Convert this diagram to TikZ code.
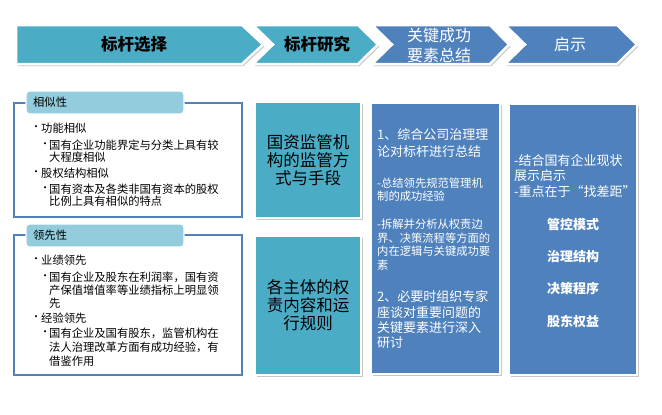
\documentclass[tikz,border=0pt]{standalone}
\usepackage{fontspec}
\setmainfont{Noto Sans CJK SC}
\usetikzlibrary{shadows}
\definecolor{tealA}{HTML}{4BACC6}
\definecolor{blueA}{HTML}{4F81BD}
\definecolor{tabA}{HTML}{93CDDD}
\newcommand{\fs}[1]{\fontsize{#1}{#1}\selectfont}
\tikzset{
  shd/.style={drop shadow={shadow xshift=1.5pt,shadow yshift=-2pt,fill=black,opacity=0.22}},
  arrowA/.style={fill=tealA,draw=white,line width=2.5pt,line join=miter,shd},
  arrowB/.style={fill=blueA,draw=white,line width=2.5pt,line join=miter,shd},
  boxT/.style={fill=tealA,draw=white,line width=2.5pt,shd},
  boxB/.style={fill=blueA,draw=white,line width=2.5pt,shd},
  panel/.style={draw=blueA,line width=1.8pt,fill=white},
  tab/.style={fill=tabA,draw=white,line width=1.2pt,rounded corners=3.5pt},
  ln/.style={anchor=west,inner sep=0pt,font=\fs{11.3}},
  bul/.style={anchor=west,inner sep=0pt,font=\fs{10}},
  wl/.style={anchor=west,inner sep=0pt,text=white},
  wc/.style={inner sep=0pt,text=white,font=\fs{13}\bfseries},
}
\begin{document}
\begin{tikzpicture}[x=1pt,y=-1pt]
\useasboundingbox (0,0) rectangle (662,415);
% ---- header chevrons ----
\path[arrowA] (16,25) -- (242,25) -- (263,44.5) -- (242,64) -- (16,64) -- cycle;
\path[arrowA] (253,25) -- (358,25) -- (378,44.5) -- (358,64) -- (253,64) -- (273,44.5) -- cycle;
\path[arrowB] (372,25) -- (490,25) -- (509,44.5) -- (490,64) -- (372,64) -- (392,44.5) -- cycle;
\path[arrowB] (505,25) -- (617,25) -- (637,44.5) -- (617,64) -- (505,64) -- (525,44.5) -- cycle;
\node[inner sep=0pt,font=\fs{16.5}\bfseries] (h1) at (134,44.5) {标杆选择};
\node[inner sep=0pt,font=\fs{16.5}\bfseries] (h2) at (317,44.5) {标杆研究};
\node[inner sep=0pt,font=\fs{16},text=white,align=center] (h3a) at (439,35) {关键成功};
\node[inner sep=0pt,font=\fs{16},text=white,align=center] (h3b) at (439,55) {要素总结};
\node[inner sep=0pt,font=\fs{16},text=white] (h4) at (570,44.5) {启示};
% ---- left panel 1 ----
\path[panel] (14,103) rectangle (242,217);
\path[tab] (26,91) rectangle (184,114);
\node[ln] (t1) at (33,102.5) {相似性};
\node[bul] (p1b1) at (31,128) {•};
\node[ln] (p1l1) at (41,128) {功能相似};
\node[bul] (p1b2) at (40,145) {•};
\node[ln] (p1l2) at (49,145) {国有企业功能界定与分类上具有较};
\node[ln] (p1l3) at (49,157) {大程度相似};
\node[bul] (p1b3) at (31,173) {•};
\node[ln] (p1l4) at (41,173) {股权结构相似};
\node[bul] (p1b4) at (40,189) {•};
\node[ln] (p1l5) at (49,189) {国有资本及各类非国有资本的股权};
\node[ln] (p1l6) at (49,201) {比例上具有相似的特点};
% ---- left panel 2 ----
\path[panel] (14,235) rectangle (242,375);
\path[tab] (26,224) rectangle (184,247);
\node[ln] (t2) at (33,235) {领先性};
\node[bul] (p2b1) at (31,260) {•};
\node[ln] (p2l1) at (41,260) {业绩领先};
\node[bul] (p2b2) at (40,277) {•};
\node[ln] (p2l2) at (49,277) {国有企业及股东在利润率，国有资};
\node[ln] (p2l3) at (49,290) {产保值增值率等业绩指标上明显领};
\node[ln] (p2l4) at (49,303) {先};
\node[bul] (p2b3) at (31,318) {•};
\node[ln] (p2l5) at (41,318) {经验领先};
\node[bul] (p2b4) at (40,333) {•};
\node[ln] (p2l6) at (49,333) {国有企业及国有股东，监管机构在};
\node[ln] (p2l7) at (49,347) {法人治理改革方面有成功经验，有};
\node[ln] (p2l8) at (49,361) {借鉴作用};
% ---- middle teal boxes ----
\path[boxT] (255,102) rectangle (361,218);
\path[boxT] (255,236) rectangle (361,375);
\node[inner sep=0pt,align=center,font=\fontsize{16.5}{18}\selectfont] (m1) at (308,160) {国资监管机\\构的监管方\\式与手段};
\node[inner sep=0pt,align=center,font=\fontsize{16.5}{18}\selectfont] (m2) at (308,305) {各主体的权\\责内容和运\\行规则};
% ---- box 3 ----
\path[boxB] (371,103) rectangle (500,374);
\node[wl,font=\fs{13}] (c1) at (377,135) {1、综合公司治理理};
\node[wl,font=\fs{13}] (c2) at (377,152) {论对标杆进行总结};
\node[wl,font=\fs{11.3}] (c3) at (377,183) {-总结领先规范管理机};
\node[wl,font=\fs{11.3}] (c4) at (377,196) {制的成功经验};
\node[wl,font=\fs{11.3}] (c5) at (377,224) {-拆解并分析从权责边};
\node[wl,font=\fs{11.3}] (c6) at (377,238) {界、决策流程等方面的};
\node[wl,font=\fs{11.3}] (c7) at (377,251) {内在逻辑与关键成功要};
\node[wl,font=\fs{11.3}] (c8) at (377,265) {素};
\node[wl,font=\fs{13}] (c9) at (377,297) {2、必要时组织专家};
\node[wl,font=\fs{13}] (c10) at (377,313) {座谈对重要问题的};
\node[wl,font=\fs{13}] (c11) at (377,328) {关键要素进行深入};
\node[wl,font=\fs{13}] (c12) at (377,343) {研讨};
% ---- box 4 ----
\path[boxB] (509,104) rectangle (637,375);
\node[wl,font=\fs{13}] (d1) at (514,161) {-结合国有企业现状};
\node[wl,font=\fs{13}] (d2) at (514,176) {展示启示};
\node[wl,font=\fs{13}] (d3) at (514,192) {-重点在于“找差距”};
\node[wc] (d4) at (573,225) {管控模式};
\node[wc] (d5) at (573,257) {治理结构};
\node[wc] (d6) at (573,289) {决策程序};
\node[wc] (d7) at (573,322) {股东权益};
\end{tikzpicture}
\end{document}
